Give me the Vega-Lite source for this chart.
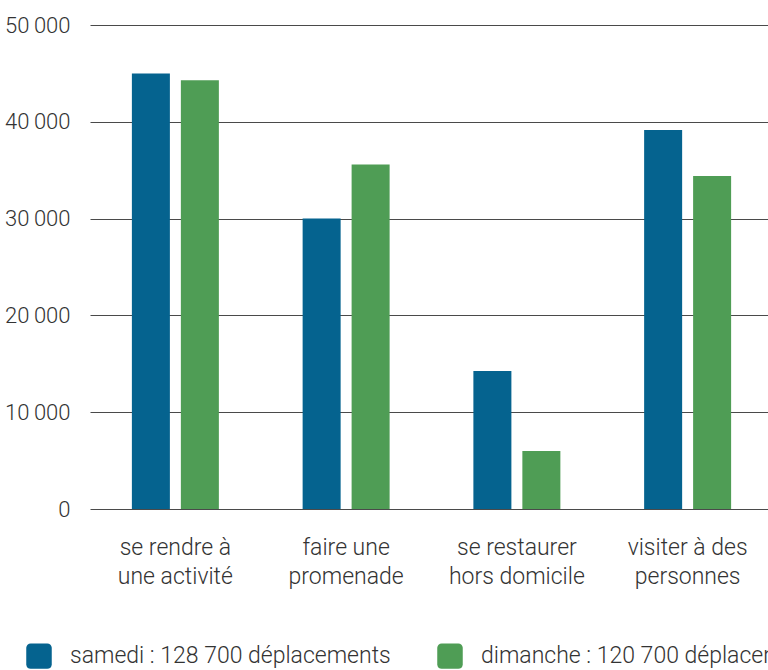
{
  "$schema": "https://vega.github.io/schema/vega-lite/v6.json",
  "autosize": "none",
  "padding": {"left": 90, "top": 25, "right": 0, "bottom": 161},
  "width": 683,
  "height": 484,
  "background": "white",
  "config": {
    "view": {"stroke": null},
    "font": "Roboto"
  },
  "data": {
    "values": [
      {"motif": "A", "jour": "samedi : 128 700 déplacements", "deplacements": 45000},
      {"motif": "A", "jour": "dimanche : 120 700  déplacements", "deplacements": 44300},
      {"motif": "B", "jour": "samedi : 128 700 déplacements", "deplacements": 30000},
      {"motif": "B", "jour": "dimanche : 120 700  déplacements", "deplacements": 35600},
      {"motif": "C", "jour": "samedi : 128 700 déplacements", "deplacements": 14250},
      {"motif": "C", "jour": "dimanche : 120 700  déplacements", "deplacements": 6000},
      {"motif": "D", "jour": "samedi : 128 700 déplacements", "deplacements": 39150},
      {"motif": "D", "jour": "dimanche : 120 700  déplacements", "deplacements": 34400}
    ]
  },
  "mark": {"type": "bar"},
  "encoding": {
    "x": {
      "field": "motif",
      "type": "nominal",
      "sort": ["A", "B", "C", "D"],
      "scale": {"paddingInner": 0, "paddingOuter": 0},
      "axis": {
        "title": null,
        "domain": false,
        "ticks": false,
        "labelAngle": 0,
        "labelFontSize": 23,
        "labelFontWeight": 300,
        "labelColor": "#333333",
        "labelPadding": 27,
        "labelLineHeight": 29,
        "labelExpr": "datum.value == 'A' ? ['se rendre à', 'une activité'] : datum.value == 'B' ? ['faire une', 'promenade'] : datum.value == 'C' ? ['se restaurer', 'hors domicile'] : ['visiter à des', 'personnes']"
      }
    },
    "xOffset": {
      "field": "jour",
      "type": "nominal",
      "sort": ["samedi : 128 700 déplacements", "dimanche : 120 700  déplacements"],
      "scale": {"paddingInner": 0.224, "paddingOuter": 0.855}
    },
    "y": {
      "field": "deplacements",
      "type": "quantitative",
      "scale": {"domain": [0, 50000], "nice": false},
      "axis": {
        "title": null,
        "domain": false,
        "ticks": false,
        "values": [0, 10000, 20000, 30000, 40000, 50000],
        "labelExpr": "replace(format(datum.value, ','), ',', '\u2009')",
        "labelFontSize": 22,
        "labelFontWeight": 300,
        "labelColor": "#333333",
        "labelPadding": 20,
        "gridColor": "#4a4a4a",
        "gridOpacity": 1,
        "gridWidth": 1
      }
    },
    "color": {
      "field": "jour",
      "type": "nominal",
      "sort": ["samedi : 128 700 déplacements", "dimanche : 120 700  déplacements"],
      "scale": {
        "domain": ["samedi : 128 700 déplacements", "dimanche : 120 700  déplacements"],
        "range": ["#05638f", "#4f9d55"]
      },
      "legend": {
        "title": null,
        "orient": "none",
        "direction": "horizontal",
        "legendX": -64,
        "legendY": 618,
        "padding": 0,
        "symbolType": "M-0.65,-1 H0.65 A0.35,0.35 0 0 1 1,-0.65 V0.65 A0.35,0.35 0 0 1 0.65,1 H-0.65 A0.35,0.35 0 0 1 -1,0.65 V-0.65 A0.35,0.35 0 0 1 -0.65,-1 Z",
        "symbolSize": 650,
        "symbolStrokeWidth": 0,
        "labelFontSize": 23,
        "labelFontWeight": 300,
        "labelColor": "#333333",
        "labelOffset": 18,
        "labelLimit": 500,
        "columnPadding": 46
      }
    }
  }
}
